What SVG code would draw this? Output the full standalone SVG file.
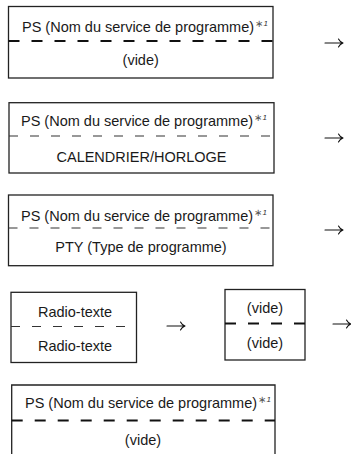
<svg xmlns="http://www.w3.org/2000/svg" width="351" height="454" viewBox="0 0 351 454">
<style>
.box{fill:#fff;stroke:#222;stroke-width:1.3}
.dh{stroke:#111;stroke-width:2.2;stroke-dasharray:11 12;fill:none}
.dl{stroke:#333;stroke-width:1.2;stroke-dasharray:9 12;fill:none}
text{font-family:"Liberation Sans",Arial,sans-serif;font-size:14.5px;fill:#1a1a1a}
.c{text-anchor:middle}
.ast{font-size:10px;fill:#555}
.one{font-size:8px;font-style:italic;fill:#333}
.arr{stroke:#111;stroke-width:1.1;fill:none;stroke-linecap:round}
</style>
<g id="box1">
<rect class="box" x="8.5" y="6.5" width="264.5" height="71.5"/>
<line class="dh" x1="8.5" y1="41" x2="273" y2="41"/>
<text x="22" y="32">PS (Nom du service de programme)<tspan class="ast" dx="1" dy="-5">∗</tspan><tspan class="one" dx="0.5" dy="-1">1</tspan></text>
<text class="c" x="140.7" y="65">(vide)</text>
</g>
<g id="box2">
<rect class="box" x="9" y="102.7" width="265" height="70.3"/>
<line class="dl" x1="9" y1="136" x2="274" y2="136"/>
<text x="21" y="126">PS (Nom du service de programme)<tspan class="ast" dx="1" dy="-5">∗</tspan><tspan class="one" dx="0.5" dy="-1">1</tspan></text>
<text class="c" x="141.5" y="161.7">CALENDRIER/HORLOGE</text>
</g>
<g id="box3">
<rect class="box" x="8.5" y="195" width="264.5" height="70.7"/>
<line class="dl" x1="8.5" y1="228" x2="273" y2="228"/>
<text x="21" y="221">PS (Nom du service de programme)<tspan class="ast" dx="1" dy="-5">∗</tspan><tspan class="one" dx="0.5" dy="-1">1</tspan></text>
<text class="c" x="141" y="251.7">PTY (Type de programme)</text>
</g>
<g id="box4">
<rect class="box" x="11" y="292.3" width="125.5" height="70.2"/>
<line class="dl" x1="11" y1="326.5" x2="136.5" y2="326.5"/>
<text class="c" x="75" y="317">Radio-texte</text>
<text class="c" x="75" y="351">Radio-texte</text>
</g>
<g id="box5">
<rect class="box" x="225" y="289.5" width="80" height="70.5"/>
<line class="dh" x1="225" y1="323.5" x2="305" y2="323.5"/>
<text class="c" x="265" y="312.7">(vide)</text>
<text class="c" x="265" y="348">(vide)</text>
</g>
<g id="box6">
<path class="box" d="M11.7,460 V385 H275 V460"/>
<line class="dh" x1="11.7" y1="420.5" x2="275" y2="420.5"/>
<text x="25" y="408">PS (Nom du service de programme)<tspan class="ast" dx="1" dy="-5">∗</tspan><tspan class="one" dx="0.5" dy="-1">1</tspan></text>
<text class="c" x="143" y="445">(vide)</text>
</g>
<g id="connectors">
<path class="arr" d="M325,43 H343 M343,43 q-3,-1 -4.5,-4 M343,43 q-3,1 -4.5,4"/>
<path class="arr" d="M325,138 H343 M343,138 q-3,-1 -4.5,-4 M343,138 q-3,1 -4.5,4"/>
<path class="arr" d="M325,230 H343 M343,230 q-3,-1 -4.5,-4 M343,230 q-3,1 -4.5,4"/>
<path class="arr" d="M167,326 H185 M185,326 q-3,-1 -4.5,-4 M185,326 q-3,1 -4.5,4"/>
<path class="arr" d="M333,324 H351 M351,324 q-3,-1 -4.5,-4 M351,324 q-3,1 -4.5,4"/>
</g>
</svg>
